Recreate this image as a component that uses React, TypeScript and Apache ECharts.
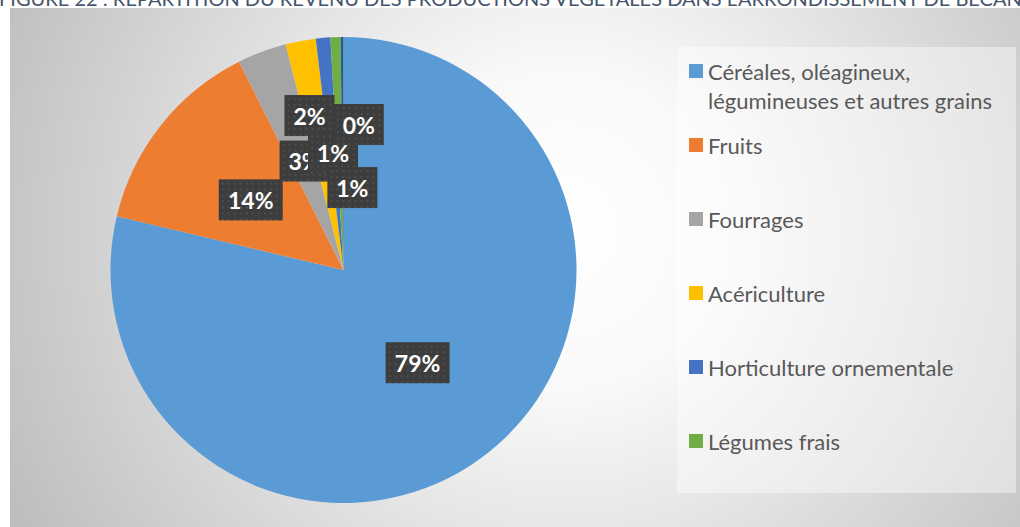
import React, { useEffect, useRef } from "react";
import * as echarts from "echarts";

const TITLE = "FIGURE 22 : RÉPARTITION DU REVENU DES PRODUCTIONS VÉGÉTALES DANS L'ARRONDISSEMENT DE BÉCANCOUR";
const CATEGORIES = [
  "Céréales, oléagineux,\nlégumineuses et autres grains",
  "Fruits",
  "Fourrages",
  "Acériculture",
  "Horticulture ornementale",
  "Légumes frais",
  "Autres",
];
const VALUES = [78.7, 13.9, 3.4, 2.1, 1.0, 0.7, 0.2];
const LEGEND_ITEMS = CATEGORIES.slice(0, 6);

const COLORS = ["#5B9BD5", "#ED7D31", "#A5A5A5", "#FFC000", "#4472C4", "#70AD47", "#255E91"];
// label nudges (style only)
const LABEL_SHIFT: [number, number][] = [
  [0, -1],
  [1, 4],
  [3, 3],
  [-12, -37],
  [0, 2],
  [13, 37],
  [16, -26],
];

const FONT = "Lato, 'Open Sans', sans-serif";

function dotPattern(w: number, h: number): string | null {
  try {
    const c = document.createElement("canvas");
    c.width = w;
    c.height = h;
    const ctx = c.getContext("2d");
    if (!ctx) return null;
    ctx.fillStyle = "#3d3d3d";
    ctx.fillRect(0, 0, w, h);
    ctx.fillStyle = "#4e4e4e";
    for (let y = 3; y < h; y += 6) {
      for (let x = 3; x < w; x += 6) {
        ctx.fillRect(x, y, 2, 2);
      }
    }
    return c.toDataURL("image/png");
  } catch (e) {
    return null;
  }
}

export default function App() {
  const ref = useRef<HTMLDivElement>(null);
  useEffect(() => {
    const chart = echarts.init(ref.current!, null, { renderer: "svg" });
    const total = VALUES.reduce((a, b) => a + b, 0);
    const wideBg = dotPattern(64, 41);
    const narrowBg = dotPattern(50, 41);
    const legends = LEGEND_ITEMS.map((name, i) => {
      const iconCenter = 71 + 74 * i;
      const first = i === 0;
      return {
        data: [name],
        orient: "vertical",
        left: 689,
        top: first ? iconCenter - 43.5 : iconCenter - 14.5,
        padding: 0,
        itemWidth: 14,
        itemHeight: 14,
        selectedMode: false,
        icon: "rect",
        formatter: first ? (n: string) => "\n" + n : undefined,
        textStyle: {
          fontFamily: FONT,
          fontSize: 22,
          color: "#595959",
          lineHeight: 29,
        },
      };
    });
    chart.setOption({
      animation: false,
      color: COLORS,
      graphic: [
        {
          type: "rect",
          z: -10,
          shape: { x: 10, y: 8, width: 1010, height: 519 },
          style: {
            fill: new echarts.graphic.RadialGradient(
              565,
              230,
              640,
              [
                { offset: 0, color: "#ffffff" },
                { offset: 0.25, color: "#f9f9f9" },
                { offset: 1, color: "#bbbbbb" },
              ],
              true
            ),
          },
        },
        {
          type: "rect",
          z: -5,
          shape: { x: 677, y: 47, width: 339, height: 446 },
          style: { fill: "rgba(255,255,255,0.42)" },
        },
        {
          type: "text",
          z: 5,
          x: -1,
          y: 8,
          style: {
            text: TITLE,
            fill: "#44546A",
            fontFamily: FONT,
            fontSize: 20,
            verticalAlign: "bottom",
          },
        },
      ],
      legend: legends,
      series: [
        {
          type: "pie",
          center: [343.5, 270],
          radius: 233,
          startAngle: 90,
          clockwise: true,
          avoidLabelOverlap: false,
          emphasis: { disabled: true },
          labelLine: { show: false },
          itemStyle: { borderWidth: 0 },
          label: {
            show: true,
            position: "inside",
            formatter: (p: any) => Math.round((p.value / total) * 100) + "%",
            color: "#ffffff",
            fontFamily: FONT,
            fontWeight: "bold",
            fontSize: 23,
            lineHeight: 23,
            backgroundColor: "#404040",
            padding: [9, 10, 9, 10],
            shadowColor: "rgba(0,0,0,0.45)",
            shadowBlur: 5,
            shadowOffsetX: 2,
            shadowOffsetY: 3,
          },
          labelLayout: (params: any) => {
            const s = LABEL_SHIFT[params.dataIndex] || [0, 0];
            return { dx: s[0], dy: s[1] };
          },
          data: CATEGORIES.map((name, i) => {
            const pct = Math.round((VALUES[i] / total) * 100);
            const bg = pct >= 10 ? wideBg : narrowBg;
            return {
              name,
              value: VALUES[i],
              label: bg ? { backgroundColor: { image: bg } } : undefined,
            };
          }),
        },
      ],
    });
    return () => chart.dispose();
  }, []);
  return (
    <div
      ref={ref}
      style={{ position: "fixed", left: 0, top: 0, width: 1020, height: 527, background: "#ffffff" }}
    />
  );
}
